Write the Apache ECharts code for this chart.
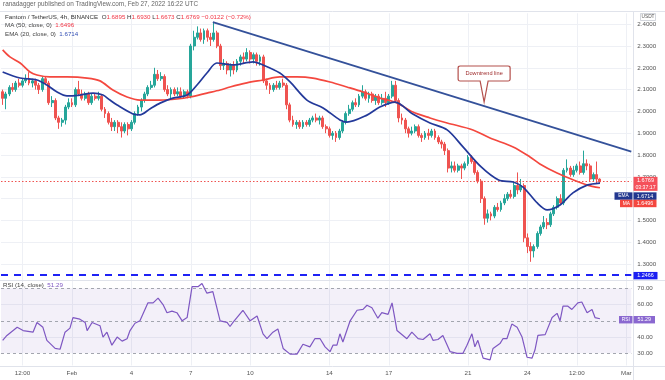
<!DOCTYPE html>
<html><head><meta charset="utf-8">
<script src="https://cdn.jsdelivr.net/npm/echarts@6/dist/echarts.min.js"></script>
<style>html,body{margin:0;padding:0;background:#fff}#c{width:665px;height:380px}</style>
</head><body><div id="c"></div>
<script>
const FONT = "'Liberation Sans', Arial, sans-serif";
// ---- 4h candles (index 0 = Jan 28 12:00, last = Feb 27 16:00) ----
const open = [2.09,2.06,2.08,2.11,2.10,2.13,2.12,2.14,2.15,2.13,2.14,2.12,2.10,2.15,2.13,2.04,2.05,1.97,1.95,1.96,
2.02,2.04,2.03,2.10,2.08,2.06,2.08,2.04,2.07,2.06,2.07,2.01,1.99,1.95,1.93,1.95,1.93,1.91,1.94,1.92,
1.95,1.99,2.02,2.05,2.08,2.11,2.12,2.17,2.15,2.16,2.10,2.08,2.10,2.08,2.09,2.07,2.09,2.07,2.30,2.34,
2.36,2.33,2.37,2.34,2.33,2.36,2.30,2.21,2.22,2.19,2.21,2.19,2.23,2.25,2.24,2.27,2.24,2.26,2.23,2.25,
2.14,2.12,2.10,2.12,2.11,2.13,2.12,2.03,1.96,1.94,1.95,1.93,1.95,1.94,1.96,1.97,1.96,1.97,1.93,1.92,
1.89,1.90,1.88,1.91,1.95,1.99,2.01,2.04,2.03,2.07,2.09,2.06,2.08,2.05,2.07,2.04,2.06,2.04,2.07,2.12,
2.05,1.97,1.96,1.92,1.90,1.91,1.93,1.89,1.88,1.90,1.89,1.91,1.88,1.86,1.85,1.82,1.74,1.75,1.73,1.75,
1.74,1.76,1.79,1.77,1.72,1.68,1.60,1.51,1.53,1.52,1.56,1.55,1.58,1.60,1.62,1.61,1.66,1.64,1.66,1.42,
1.38,1.36,1.38,1.44,1.47,1.49,1.48,1.53,1.56,1.60,1.58,1.73,1.74,1.71,1.73,1.75,1.72,1.76,1.75,1.69,
1.71,1.6895];
const close = [2.06,2.08,2.11,2.10,2.13,2.12,2.14,2.15,2.13,2.14,2.12,2.10,2.15,2.13,2.04,2.05,1.97,1.95,1.96,2.02,
2.04,2.03,2.10,2.08,2.06,2.08,2.04,2.07,2.06,2.07,2.01,1.99,1.95,1.93,1.95,1.93,1.91,1.94,1.92,1.95,
1.99,2.02,2.05,2.08,2.11,2.12,2.17,2.15,2.16,2.10,2.08,2.10,2.08,2.09,2.07,2.09,2.07,2.30,2.34,2.36,
2.33,2.37,2.34,2.33,2.36,2.30,2.21,2.22,2.19,2.21,2.19,2.23,2.25,2.24,2.27,2.24,2.26,2.23,2.25,2.14,
2.12,2.10,2.12,2.11,2.13,2.12,2.03,1.96,1.94,1.95,1.93,1.95,1.94,1.96,1.97,1.96,1.97,1.93,1.92,1.89,
1.90,1.88,1.91,1.95,1.99,2.01,2.04,2.03,2.07,2.09,2.06,2.08,2.05,2.07,2.04,2.06,2.04,2.07,2.12,2.05,
1.97,1.96,1.92,1.90,1.91,1.93,1.89,1.88,1.90,1.89,1.91,1.88,1.86,1.85,1.82,1.74,1.75,1.73,1.75,1.74,
1.76,1.79,1.77,1.72,1.68,1.60,1.51,1.53,1.52,1.56,1.55,1.58,1.60,1.62,1.61,1.66,1.64,1.66,1.42,1.38,
1.36,1.38,1.44,1.47,1.49,1.48,1.53,1.56,1.60,1.58,1.73,1.74,1.71,1.73,1.75,1.72,1.76,1.75,1.69,1.71,
1.6895,1.6769];
const low = [2.03,2.01,2.07,2.09,2.09,2.11,2.11,2.13,2.12,2.11,2.10,2.08,2.09,2.12,2.03,2.02,1.96,1.92,1.93,1.94,
2.01,2.02,2.02,2.07,2.05,2.05,2.03,2.03,2.05,2.05,2.00,1.97,1.94,1.91,1.91,1.90,1.88,1.90,1.89,1.91,
1.94,1.98,2.00,2.04,2.07,2.10,2.11,2.14,2.14,2.09,2.07,2.06,2.07,2.07,2.06,2.06,2.06,2.06,2.28,2.33,
2.32,2.31,2.32,2.30,2.32,2.29,2.19,2.19,2.17,2.16,2.17,2.18,2.21,2.22,2.23,2.22,2.22,2.21,2.21,2.13,
2.10,2.08,2.09,2.10,2.10,2.11,2.01,1.95,1.93,1.92,1.92,1.92,1.93,1.93,1.95,1.95,1.94,1.92,1.90,1.88,
1.87,1.86,1.87,1.90,1.94,1.98,2.00,2.02,2.02,2.06,2.05,2.04,2.04,2.03,2.03,2.03,2.02,2.03,2.06,2.04,
1.95,1.94,1.90,1.88,1.89,1.90,1.88,1.86,1.87,1.87,1.88,1.87,1.85,1.83,1.80,1.72,1.72,1.72,1.72,1.69,
1.73,1.75,1.76,1.71,1.67,1.58,1.48,1.49,1.50,1.51,1.54,1.54,1.57,1.59,1.60,1.60,1.62,1.63,1.40,1.35,
1.31,1.33,1.37,1.43,1.46,1.46,1.47,1.52,1.55,1.57,1.57,1.72,1.70,1.70,1.72,1.71,1.71,1.73,1.68,1.68,
1.67,1.6673];
const high = [2.10,2.09,2.12,2.13,2.14,2.15,2.15,2.17,2.18,2.15,2.15,2.13,2.16,2.16,2.14,2.07,2.06,1.98,1.97,2.03,
2.06,2.06,2.11,2.14,2.10,2.09,2.09,2.08,2.08,2.09,2.08,2.02,2.00,1.97,1.96,1.96,1.95,1.95,1.95,1.96,
2.00,2.03,2.06,2.09,2.12,2.14,2.20,2.19,2.18,2.17,2.12,2.11,2.11,2.11,2.11,2.10,2.10,2.31,2.37,2.39,
2.38,2.38,2.38,2.36,2.41,2.37,2.31,2.24,2.23,2.22,2.23,2.24,2.26,2.27,2.29,2.28,2.27,2.27,2.26,2.26,
2.15,2.13,2.13,2.14,2.14,2.15,2.13,2.04,1.98,1.96,1.96,1.96,1.96,1.97,1.98,1.99,1.98,1.98,1.94,1.93,
1.91,1.91,1.92,1.96,2.00,2.03,2.05,2.06,2.08,2.12,2.10,2.09,2.09,2.08,2.08,2.08,2.09,2.08,2.14,2.14,
2.06,1.99,1.97,1.93,1.93,1.94,1.94,1.90,1.91,1.92,1.92,1.92,1.89,1.87,1.86,1.83,1.77,1.77,1.76,1.76,
1.77,1.80,1.80,1.78,1.73,1.69,1.61,1.55,1.54,1.57,1.58,1.59,1.62,1.63,1.64,1.68,1.72,1.69,1.67,1.44,
1.40,1.39,1.45,1.48,1.52,1.51,1.54,1.57,1.61,1.62,1.74,1.78,1.75,1.75,1.76,1.77,1.82,1.78,1.76,1.72,
1.77,1.6930];
// ---- indicators (candle index, value) ----
const ma50Idx = [0,2.2,5.3,8.3,10.4,14.3,19.5,25.6,29.5,33.4,37.7,41.6,47.7,52.8,56.8,61.9,65.9,68.9,74,78.9,84,89.2,94,99.2,104.3,109.2,114.3,119.5,124.3,129.5,134.7,142.5,147.7,154.7,159.8,162.8,168,173,177.1,181];
const ma50Val = [2.282,2.250,2.222,2.181,2.167,2.158,2.158,2.153,2.140,2.098,2.066,2.052,2.052,2.057,2.066,2.084,2.098,2.112,2.131,2.144,2.158,2.158,2.153,2.135,2.112,2.089,2.061,2.039,1.997,1.970,1.947,1.915,1.878,1.837,1.791,1.759,1.717,1.685,1.662,1.6496];
const ema20Idx = [0,5.3,10.4,13.4,16.5,19.5,23.4,27.4,30.4,32.5,34.7,39.5,41.6,44.6,47.7,51.6,55.9,58.9,61.9,64.9,69.8,75.9,78.9,84,87.1,92.2,97.1,102.2,104.3,110.4,114.3,118.9,124.3,129.5,134.7,139.5,145,150.3,154.7,157.7,162,165,168.9,172.8,177.1,181];
const ema20Val = [2.181,2.153,2.144,2.121,2.089,2.071,2.075,2.084,2.075,2.052,2.029,1.988,1.984,2.011,2.038,2.061,2.075,2.121,2.176,2.222,2.213,2.227,2.213,2.176,2.135,2.052,2.016,1.961,1.951,1.983,2.020,2.043,1.988,1.947,1.915,1.837,1.745,1.685,1.676,1.653,1.580,1.548,1.571,1.626,1.662,1.6714];
const rsiIdx = [0,1.3,4.4,6.2,9.2,10.4,12.2,13.4,15.9,17.4,18.9,20.4,21.3,23.4,25,25.6,27.1,29.5,30.4,31.6,33.1,34.7,36.2,37.7,38.6,40.1,41.6,44,45.6,47.1,48.6,49.8,51.3,52.8,54.4,55.9,57.4,59.2,60.4,61.9,63.7,65.9,68,68.9,69.8,72.8,75,77.1,78.9,80.1,81.9,83.4,85,87.1,89.2,91,93.1,94.6,96.2,97.7,99.2,100.1,101.3,102.2,103.1,105.3,107.4,109.2,110.4,111.9,113.7,114.9,116.8,118,119.5,122.5,124,125.9,127.4,129.5,130.4,131.9,133.4,135.6,137.7,139.5,140.7,142.2,143.1,144,145.6,147.7,148.6,150.7,151.6,152.8,154.3,155.9,157.4,158.9,160.4,161.3,162.2,164.4,166.5,168,168.9,169.8,171.3,172.5,174.3,175.5,177.1,178.6,179.5,181];
const rsiVal = [38,41,46,44,43,49,46,38,33,32.5,43,45.5,52,51,49,44,49,47,40,43,35,40,37.5,39,44,48.5,50,61,61,64,60,55,56,55,50,52,71,71,73,67,68,50,49,46.5,49,56.5,50,53,42,39,43,45,33,29.5,29.5,35.6,34,39,39,34,31,35,35,42,37,50,56.5,57,59.6,58,51.6,55,54,61,44,39,43,39,38.5,42,38,38.5,41,31,30,30,35,42,34,38,27,26,33,36,39,39,48,46,40,27.6,27,32,41,41.5,52,54.6,50,59,59,57,61,61.6,55,57,52,51.29];
const trendIdx = [63.7, 190.5];
const trendVal = [2.41, 1.815];
const calloutAt = [145.9, 2.043];
const supportLevel = 1.2466;
const lastMA = 1.6496, lastEMA = 1.6714, lastRSI = 51.29;
const changeText = '−0.0122 (−0.72%)';
const timerText = '03:37:17';
// ---- axis ticks ----
const tickIndex = [6,21,39,57,75,99,117,141,159,174,189];
const tickText = ['12:00','Feb','4','7','10','14','17','21','24','12:00','Mar'];
const priceTicks = [1.3,1.4,1.5,1.6,1.7,1.8,1.9,2.0,2.1,2.2,2.3,2.4];
const rsiTicks = [30,40,50,60,70];
const N = 191;

const start = Date.UTC(2022,0,28,12);
const categories = Array.from({length:N},(_,i)=>{const d=new Date(start+i*4*3600e3);return (d.getUTCMonth()+1)+'/'+d.getUTCDate()+' '+d.getUTCHours()+':00';});
const candles = open.map((o,i)=>[o, close[i], low[i], high[i]]);
const pairs = (a,b)=>a.map((x,i)=>[x,b[i]]);
const last = close.length-1;
const lastPrice = close[last];

const UP='#26a69a', DOWN='#ef5350', GRID='#eef0f5', TXT='#555';
const tickFn = i => tickIndex.indexOf(i) >= 0;

const chart = echarts.init(document.getElementById('c'), null, {renderer:'canvas'});
const lg = {fontSize:6.2, fontFamily:FONT};
const option = {
  animation:false,
  backgroundColor:'#fff',
  textStyle:{fontFamily:FONT},
  title:[
    {text:'ranadagger published on TradingView.com, Feb 27, 2022 16:22 UTC', left:3, top:1.5, padding:0,
     textStyle:{fontSize:6.4, color:'#666', fontWeight:'normal', fontFamily:FONT}},
    {text:'{d|Fantom / TetherUS, 4h, BINANCE}  {d|O}{r|'+open[last].toFixed(4)+'} {d|H}{r|'+high[last].toFixed(4)+'} {d|L}{r|'+low[last].toFixed(4)+'} {d|C}{r|'+close[last].toFixed(4)+'} {r|'+changeText+'}',
     left:5, top:14.5, padding:0,
     textStyle:{fontSize:6.2, fontWeight:'normal', rich:{d:Object.assign({color:'#333'},lg), r:Object.assign({color:'#f23645'},lg)}}},
    {text:'{d|MA (50, close, 0)}  {r|'+lastMA.toFixed(4)+'}', left:5, top:22.5, padding:0,
     textStyle:{fontSize:6.2, fontWeight:'normal', rich:{d:Object.assign({color:'#444'},lg), r:Object.assign({color:'#f23645'},lg)}}},
    {text:'{d|EMA (20, close, 0)}  {b|'+lastEMA.toFixed(4)+'}', left:5, top:31.5, padding:0,
     textStyle:{fontSize:6.2, fontWeight:'normal', rich:{d:Object.assign({color:'#444'},lg), b:Object.assign({color:'#3450b5'},lg)}}},
    {text:'{d|RSI (14, close)}  {p|'+lastRSI.toFixed(2)+'}', left:3, top:282.5, padding:0,
     textStyle:{fontSize:6.2, fontWeight:'normal', rich:{d:Object.assign({color:'#444'},lg), p:Object.assign({color:'#7e57c2'},lg)}}}
  ],
  grid:[
    {left:1, width:630.3, top:13.3, height:267.05},
    {left:1, width:630.3, top:280.2, height:85.3}
  ],
  xAxis:[
    {type:'category', gridIndex:0, data:categories, boundaryGap:true,
     axisLine:{show:false}, axisTick:{show:false}, axisLabel:{show:false},
     splitLine:{show:true, interval:tickFn, alignWithLabel:true, lineStyle:{color:GRID, width:1}}},
    {type:'value', gridIndex:0, min:-0.5, max:N-0.5, show:false},
    {type:'category', gridIndex:1, data:categories, boundaryGap:true,
     axisLine:{show:false}, axisTick:{show:false},
     axisLabel:{show:true, interval:tickFn, formatter:(v,i)=>{const k=tickIndex.indexOf(i);return k>=0?tickText[k]:'';},
       margin:5, fontSize:6.2, color:TXT, fontFamily:FONT},
     splitLine:{show:true, interval:tickFn, alignWithLabel:true, lineStyle:{color:GRID, width:1}}},
    {type:'value', gridIndex:1, min:-0.5, max:N-0.5, show:false}
  ],
  yAxis:[
    {type:'value', gridIndex:0, position:'right', min:1.225, max:2.45, interval:0.025,
     axisLine:{show:false}, axisTick:{show:false},
     axisLabel:{margin:6, fontSize:6.2, color:TXT, fontFamily:FONT,
       formatter:v=>{const t=priceTicks.find(p=>Math.abs(p-v)<1e-6);return t!==undefined?t.toFixed(4):'';}},
     splitLine:{show:true, lineStyle:{color:['rgba(0,0,0,0)','rgba(0,0,0,0)','rgba(0,0,0,0)',GRID], width:1}}},
    {type:'value', gridIndex:1, position:'right', min:22.5, max:75, interval:2.5,
     axisLine:{show:false}, axisTick:{show:false},
     axisLabel:{margin:6, fontSize:6.2, color:TXT, fontFamily:FONT,
       formatter:v=>{const t=rsiTicks.find(p=>Math.abs(p-v)<1e-6);return t!==undefined?t.toFixed(2):'';}},
     splitLine:{show:true, lineStyle:{color:Array.from({length:22},(_,i)=>(i===7||i===15)?GRID:'rgba(0,0,0,0)'), width:1}}}
  ],
  series:[
    {type:'candlestick', name:'FTM', xAxisIndex:0, yAxisIndex:0, data:candles, barWidth:2.4, z:2,
     itemStyle:{color:UP, color0:DOWN, borderColor:UP, borderColor0:DOWN, borderWidth:1},
     markLine:{silent:true, symbol:['none','none'], label:{show:false}, animation:false,
       data:[{yAxis:lastPrice, lineStyle:{color:'#ef5350', type:[1.5,2], width:1}},
             {yAxis:supportLevel, lineStyle:{color:'#1f22f5', type:[7,6], width:2}}]}},
    {type:'line', name:'MA50', xAxisIndex:1, yAxisIndex:0, data:pairs(ma50Idx,ma50Val), smooth:0.3,
     showSymbol:false, lineStyle:{color:'#f4483f', width:1.7}, z:4, silent:true},
    {type:'line', name:'EMA20', xAxisIndex:1, yAxisIndex:0, data:pairs(ema20Idx,ema20Val), smooth:0.3,
     showSymbol:false, lineStyle:{color:'#23399a', width:1.7}, z:5, silent:true},
    {type:'line', name:'Trend', xAxisIndex:1, yAxisIndex:0, data:pairs(trendIdx,trendVal),
     showSymbol:false, lineStyle:{color:'#34519a', width:1.8}, z:6, silent:true,
     markPoint:{silent:true, animation:false,
       symbol:'path://M2,0 L50,0 Q52,0 52,2 L52,13 Q52,15 50,15 L30,15 L26,36 L22,15 L2,15 Q0,15 0,13 L0,2 Q0,0 2,0 Z',
       symbolSize:[52,36], symbolOffset:[0,-18], symbolKeepAspect:false,
       itemStyle:{color:'#fff', borderColor:'#b4504c', borderWidth:1},
       label:{show:true, position:'inside', offset:[0,-10.5], formatter:'Downtrend line', color:'#9e2b2b', fontSize:5.6, fontFamily:FONT},
       data:[{coord:calloutAt}]}},
    {type:'line', name:'RSI', xAxisIndex:3, yAxisIndex:1, data:pairs(rsiIdx,rsiVal),
     showSymbol:false, lineStyle:{color:'#7e57c2', width:1.2}, z:5, silent:true,
     markArea:{silent:true, itemStyle:{color:'rgba(126,87,194,0.09)'}, data:[[{yAxis:30},{yAxis:70}]]},
     markLine:{silent:true, symbol:['none','none'], label:{show:false}, animation:false,
       lineStyle:{color:'#a3a6af', type:[3,3], width:1},
       data:[{yAxis:70},{yAxis:50},{yAxis:30}]}}
  ]
};
chart.setOption(option);

const yP = v => chart.convertToPixel({yAxisIndex:0}, v);
const yR = v => chart.convertToPixel({yAxisIndex:1}, v);
function rect(x,y,w,h,fill,stroke){return {type:'rect', silent:true, z:100, shape:{x:x,y:y,width:w,height:h}, style:{fill:fill, stroke:stroke||null, lineWidth:stroke?0.8:0}};}
function txt(x,y,s,fill,size){return {type:'text', silent:true, z:101, x:x, y:y, style:{text:s, fill:fill, font:size+'px '+FONT, align:'center', verticalAlign:'middle', textAlign:'center', textVerticalAlign:'middle'}};}
function hline(y,x1,x2,c){return {type:'line', silent:true, z:50, shape:{x1:x1,y1:y,x2:x2,y2:y}, style:{stroke:c, lineWidth:1}};}
function vline(x,y1,y2,c){return {type:'line', silent:true, z:50, shape:{x1:x,y1:y1,x2:x,y2:y2}, style:{stroke:c, lineWidth:1}};}

const g = [];
const SEP = '#e0e3eb';
g.push(hline(11.5,0,665,SEP), hline(280.5,0,665,SEP), hline(366.5,0,665,SEP), vline(633.5,11.5,380,SEP));
g.push(rect(640.5,13.5,15,7,'#fff','#c8cbd3'), txt(648,17,'USDT','#555',4.8));
const yl = yP(lastPrice);
g.push(rect(633.5, yl-5, 24, 14, '#f5505a'), txt(645.5, yl-1, lastPrice.toFixed(4), '#fff', 5.6), txt(645.5, yl+5.3, timerText, '#fff', 5.2));
const ye = yP(lastEMA)+13;
g.push(rect(614.5, ye-3.7, 18, 7.4, '#22378f'), txt(623.5, ye, 'EMA', '#fff', 4.8),
       rect(633.5, ye-3.7, 23, 7.4, '#22378f'), txt(645, ye, lastEMA.toFixed(4), '#fff', 5.4));
const ym = yP(lastMA)+15.7;
g.push(rect(620, ym-3.7, 12.5, 7.4, '#f4473f'), txt(626.3, ym, 'MA', '#fff', 4.8),
       rect(633.5, ym-3.7, 23, 7.4, '#f4473f'), txt(645, ym, lastMA.toFixed(4), '#fff', 5.4));
const ys = yP(supportLevel);
g.push(rect(633.5, ys-3.7, 24, 7.4, '#1b1ff2'), txt(645.5, ys, supportLevel.toFixed(4), '#fff', 5.4));
const yr = yR(lastRSI)+1;
g.push(rect(619, yr-3.7, 13.5, 7.4, '#8a68d0'), txt(625.8, yr, 'RSI', '#fff', 4.8),
       rect(633.5, yr-3.7, 21.5, 7.4, '#8a68d0'), txt(644.2, yr, lastRSI.toFixed(2), '#fff', 5.4));
chart.setOption({graphic:{elements:g}});
</script></body></html>
